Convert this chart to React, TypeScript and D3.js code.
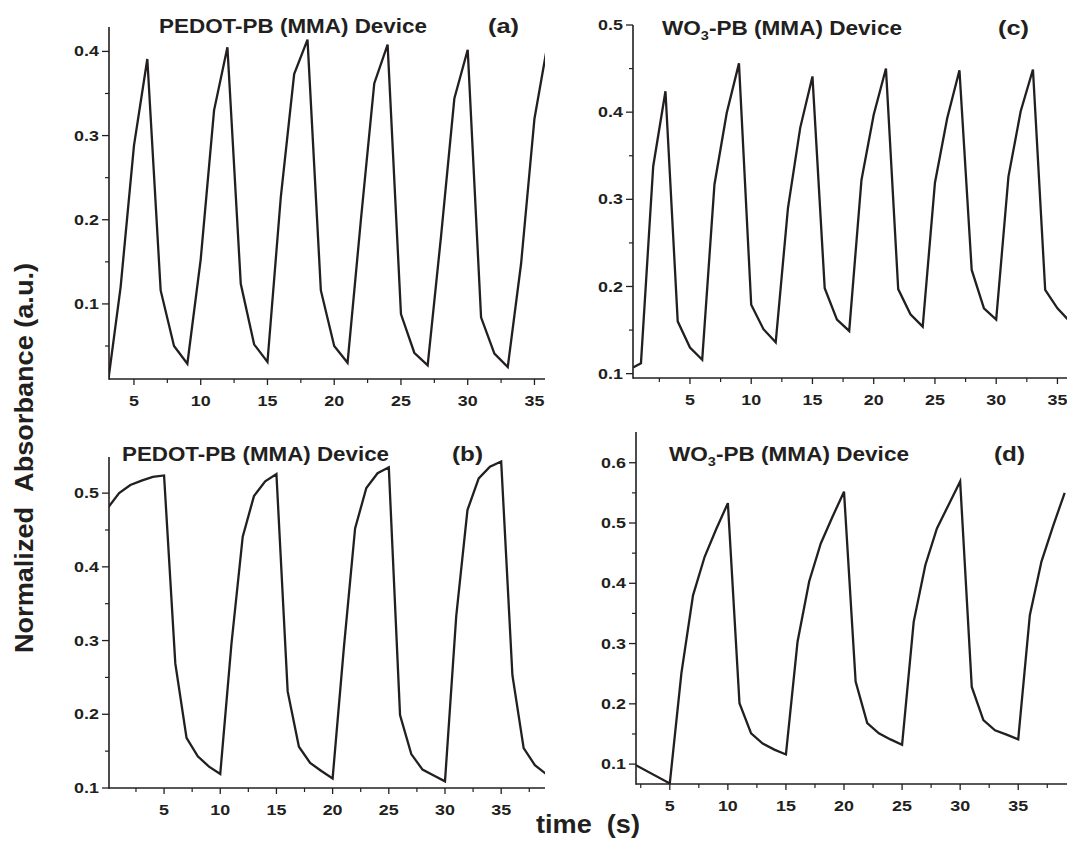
import React from 'react';
import * as d3 from 'd3';

// ---------- data ----------
const timeA = [3, 4, 5, 6, 7, 8, 9, 10, 11, 12, 13, 14, 15, 16, 17, 18, 19, 20, 21, 22, 23, 24, 25, 26, 27, 28, 29, 30, 31, 32, 33, 34, 35, 36];
const absA = [0.0, 0.12, 0.288, 0.391, 0.116, 0.05, 0.029, 0.153, 0.33, 0.405, 0.124, 0.052, 0.031, 0.227, 0.373, 0.414, 0.116, 0.05, 0.03, 0.2, 0.362, 0.408, 0.088, 0.042, 0.027, 0.18, 0.344, 0.402, 0.084, 0.041, 0.025, 0.148, 0.32, 0.41];

const timeB = [0, 1, 2, 3, 4, 5, 6, 7, 8, 9, 10, 11, 12, 13, 14, 15, 16, 17, 18, 19, 20, 21, 22, 23, 24, 25, 26, 27, 28, 29, 30, 31, 32, 33, 34, 35, 36, 37, 38, 39];
const absB = [0.48, 0.5, 0.511, 0.517, 0.522, 0.524, 0.269, 0.168, 0.143, 0.129, 0.119, 0.296, 0.441, 0.496, 0.516, 0.526, 0.231, 0.156, 0.134, 0.123, 0.113, 0.29, 0.452, 0.507, 0.527, 0.535, 0.199, 0.146, 0.125, 0.117, 0.109, 0.333, 0.477, 0.52, 0.536, 0.543, 0.253, 0.154, 0.131, 0.119];

const timeC = [0.35, 1, 2, 3, 4, 5, 6, 7, 8, 9, 10, 11, 12, 13, 14, 15, 16, 17, 18, 19, 20, 21, 22, 23, 24, 25, 26, 27, 28, 29, 30, 31, 32, 33, 34, 35, 36];
const absC = [0.107, 0.112, 0.338, 0.424, 0.16, 0.13, 0.116, 0.317, 0.399, 0.456, 0.179, 0.151, 0.136, 0.29, 0.382, 0.441, 0.198, 0.162, 0.149, 0.322, 0.397, 0.45, 0.197, 0.168, 0.154, 0.319, 0.393, 0.448, 0.219, 0.175, 0.162, 0.326, 0.401, 0.449, 0.196, 0.175, 0.16];

const timeD = [2, 5, 6, 7, 8, 9, 10, 11, 12, 13, 14, 15, 16, 17, 18, 19, 20, 21, 22, 23, 24, 25, 26, 27, 28, 29, 30, 31, 32, 33, 34, 35, 36, 37, 38, 39];
const absD = [0.099, 0.068, 0.251, 0.38, 0.444, 0.49, 0.533, 0.201, 0.151, 0.134, 0.124, 0.116, 0.303, 0.403, 0.466, 0.51, 0.552, 0.237, 0.168, 0.151, 0.141, 0.132, 0.336, 0.43, 0.491, 0.53, 0.569, 0.228, 0.173, 0.156, 0.149, 0.141, 0.347, 0.436, 0.495, 0.55];

const xTickLabels = [5, 10, 15, 20, 25, 30, 35];
const xMinorTicks = [2.5, 7.5, 12.5, 17.5, 22.5, 27.5, 32.5, 37.5];
const yMajorA = [0.1, 0.2, 0.3, 0.4];
const yMinorA = [0.05, 0.15, 0.25, 0.35];
const yMajorB = [0.1, 0.2, 0.3, 0.4, 0.5];
const yMinorB = [0.15, 0.25, 0.35, 0.45];
const yMajorC = [0.1, 0.2, 0.3, 0.4, 0.5];
const yMinorC = [0.15, 0.25, 0.35, 0.45];
const yMajorD = [0.1, 0.2, 0.3, 0.4, 0.5, 0.6];
const yMinorD = [0.15, 0.25, 0.35, 0.45, 0.55];

const titlePEDOT = 'PEDOT-PB (MMA) Device';
const titleWO3 = ['WO', '3', '-PB (MMA) Device'];
const yAxisTitle = 'Normalized\u00a0\u00a0Absorbance (a.u.)';
const xAxisTitle = 'time\u00a0\u00a0(s)';

const FONT = '"Liberation Sans", Arial, Helvetica, sans-serif';
const INK = '#231f20';
const SX = 1.28; // horizontal stretch of small labels

type PanelProps = {
  id: string;
  times: number[];
  values: number[];
  xDomain: [number, number];
  yDomain: [number, number];
  left: number;
  right: number;
  top: number;
  bottom: number;
  yMajor: number[];
  yMinor: number[];
};

function Panel(p: PanelProps) {
  const x = d3.scaleLinear().domain(p.xDomain).range([p.left, p.right]);
  const y = d3.scaleLinear().domain(p.yDomain).range([p.bottom, p.top]);
  const pts = p.times.map((t, i) => [t, p.values[i]] as [number, number]);
  const line = d3
    .line<[number, number]>()
    .x((d) => x(d[0]))
    .y((d) => y(d[1]));
  const inX = (v: number) => v >= p.xDomain[0] && v <= p.xDomain[1];
  const inY = (v: number) => v >= p.yDomain[0] - 1e-9 && v <= p.yDomain[1];
  const fmt = d3.format('.1f');
  return (
    <g>
      <clipPath id={p.id}>
        <rect x={p.left} y={p.top - 4} width={p.right - p.left} height={p.bottom - p.top + 4} />
      </clipPath>
      <path
        d={line(pts) || ''}
        fill="none"
        stroke={INK}
        strokeWidth={2.3}
        strokeLinejoin="miter"
        clipPath={`url(#${p.id})`}
      />
      <line x1={p.left} x2={p.left} y1={p.top} y2={p.bottom + 0.75} stroke={INK} strokeWidth={1.6} />
      <line x1={p.left} x2={p.right} y1={p.bottom} y2={p.bottom} stroke={INK} strokeWidth={1.6} />
      {p.yMajor.filter(inY).map((v) => (
        <g key={'ym' + v}>
          <line x1={p.left - 7} x2={p.left} y1={y(v)} y2={y(v)} stroke={INK} strokeWidth={1.3} />
          <text
            transform={`translate(${p.left - 10},${y(v)}) scale(${SX},1)`}
            dy="0.36em"
            textAnchor="end"
            fontFamily={FONT}
            fontWeight="bold"
            fontSize={14}
            fill={INK}
          >
            {fmt(v)}
          </text>
        </g>
      ))}
      {p.yMinor.filter(inY).map((v) => (
        <line key={'yn' + v} x1={p.left - 4} x2={p.left} y1={y(v)} y2={y(v)} stroke={INK} strokeWidth={1.2} />
      ))}
      {xTickLabels.filter(inX).map((v) => (
        <g key={'xm' + v}>
          <line x1={x(v)} x2={x(v)} y1={p.bottom} y2={p.bottom + 6} stroke={INK} strokeWidth={1.3} />
          <text
            transform={`translate(${x(v)},${p.bottom + 27}) scale(${SX},1)`}
            textAnchor="middle"
            fontFamily={FONT}
            fontWeight="bold"
            fontSize={14}
            fill={INK}
          >
            {v}
          </text>
        </g>
      ))}
      {xMinorTicks.filter(inX).map((v) => (
        <line key={'xn' + v} x1={x(v)} x2={x(v)} y1={p.bottom} y2={p.bottom + 4} stroke={INK} strokeWidth={1.2} />
      ))}
    </g>
  );
}

function Title(props: { x: number; y: number; len: number; wo3?: boolean }) {
  const common = {
    fontFamily: FONT,
    fontWeight: 'bold' as const,
    fontSize: 19.5,
    fill: INK,
  };
  if (props.wo3) {
    return (
      <text x={props.x} y={props.y} textLength={props.len} lengthAdjust="spacingAndGlyphs" {...common}>
        {titleWO3[0]}
        <tspan dy={5} fontSize={12.5}>
          {titleWO3[1]}
        </tspan>
        <tspan dy={-5}>{titleWO3[2]}</tspan>
      </text>
    );
  }
  return (
    <text x={props.x} y={props.y} textLength={props.len} lengthAdjust="spacingAndGlyphs" {...common}>
      {titlePEDOT}
    </text>
  );
}

function Tag(props: { x: number; y: number; label: string }) {
  return (
    <text
      x={props.x}
      y={props.y}
      textLength={31}
      lengthAdjust="spacingAndGlyphs"
      fontFamily={FONT}
      fontWeight="bold"
      fontSize={21}
      fill={INK}
    >
      {props.label}
    </text>
  );
}

export default function App() {
  return (
    <svg
      width={1067}
      height={841}
      viewBox="0 0 1067 841"
      style={{ position: 'absolute', left: 0, top: 0, background: '#fff' }}
    >
      <rect x={0} y={0} width={1067} height={841} fill="#fff" />
      {/* (a) */}
      <Panel
        id="clipA"
        times={timeA}
        values={absA}
        xDomain={[3.13, 35.79]}
        yDomain={[0.0108, 0.429]}
        left={109}
        right={545}
        top={27}
        bottom={379}
        yMajor={yMajorA}
        yMinor={yMinorA}
      />
      {/* (c) */}
      <Panel
        id="clipC"
        times={timeC}
        values={absC}
        xDomain={[0.35, 35.78]}
        yDomain={[0.095, 0.5]}
        left={633}
        right={1067}
        top={25}
        bottom={378}
        yMajor={yMajorC}
        yMinor={yMinorC}
      />
      {/* (b) */}
      <Panel
        id="clipB"
        times={timeB}
        values={absB}
        xDomain={[0.1, 38.9]}
        yDomain={[0.1, 0.549]}
        left={109}
        right={545}
        top={457}
        bottom={788}
        yMajor={yMajorB}
        yMinor={yMinorB}
      />
      {/* (d) */}
      <Panel
        id="clipD"
        times={timeD}
        values={absD}
        xDomain={[2.09, 39.2]}
        yDomain={[0.067, 0.651]}
        left={636}
        right={1067}
        top={432}
        bottom={784}
        yMajor={yMajorD}
        yMinor={yMinorD}
      />

      <Title x={159} y={33} len={268} />
      <Tag x={488} y={33} label="(a)" />
      <Title x={662} y={35} len={240} wo3 />
      <Tag x={998} y={35} label="(c)" />
      <Title x={122} y={461} len={267} />
      <Tag x={452} y={461} label="(b)" />
      <Title x={669} y={461} len={240} wo3 />
      <Tag x={994} y={461} label="(d)" />

      <text
        transform="translate(33,458) rotate(-90)"
        textAnchor="middle"
        textLength={390}
        lengthAdjust="spacingAndGlyphs"
        fontFamily={FONT}
        fontWeight="bold"
        fontSize={26}
        fill={INK}
      >
        {yAxisTitle}
      </text>
      <text
        x={536}
        y={833}
        textLength={104}
        lengthAdjust="spacingAndGlyphs"
        fontFamily={FONT}
        fontWeight="bold"
        fontSize={25}
        fill={INK}
      >
        {xAxisTitle}
      </text>
    </svg>
  );
}
